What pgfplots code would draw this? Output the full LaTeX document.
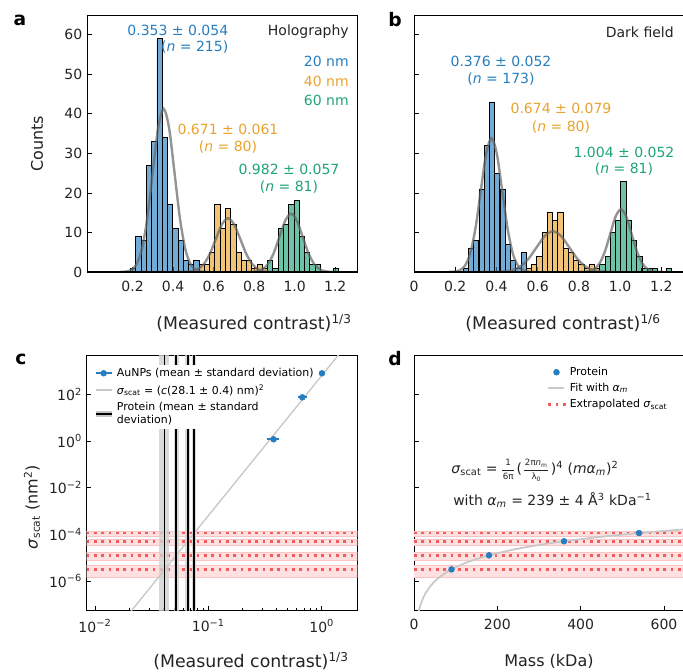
\documentclass[border=0pt]{standalone}
\usepackage{pgfplots}
\pgfplotsset{compat=1.18}
\usepackage{fontspec}
\setmainfont{DejaVu Sans}

\definecolor{cblue}{RGB}{38,126,192}
\definecolor{corange}{RGB}{232,163,45}
\definecolor{cgreen}{RGB}{31,163,122}
\definecolor{cred}{RGB}{245,90,90}
\definecolor{cband}{RGB}{255,224,224}
\definecolor{cfit}{RGB}{200,200,200}
\definecolor{ctxt}{RGB}{35,35,35}

\newcommand\tickfont{\fontsize{10.5}{12}\selectfont}
\newcommand\labfont{\fontsize{12}{14}\selectfont}
\newcommand\conlabfont{\fontsize{13}{15}\selectfont}
\newcommand\annfont{\fontsize{10.5}{12.5}\selectfont}
\newcommand\legfont{\fontsize{8.2}{10}\selectfont}
% small stacked fraction for the formula in d
\newcommand\smfrac[2]{{\renewcommand\arraystretch{0.78}\setlength\tabcolsep{0.5pt}%
  \begin{tabular}{c}\fontsize{6.5}{8}\selectfont #1\\\hline\fontsize{6.5}{8}\selectfont #2\end{tabular}}}

\pgfplotsset{
  panel/.style={scale only axis, anchor=north west, tick align=inside, tick pos=left,
    major tick length=3.5pt, minor tick length=2pt,
    every tick/.style={black, line width=0.6pt},
    axis line style={line width=0.6pt},
    ticklabel style={font=\tickfont, text=ctxt},
    xticklabel style={yshift=-3pt}},
  hist/.style={ybar, bar width=0.026, bar shift=0pt, draw=black, line width=0.6pt, fill opacity=0.65},
  gauss/.style={smooth, draw=black!60, line width=1.8pt, opacity=0.7},
  band/.style={fill=cband, draw=cred!35, line width=0.4pt, forget plot},
  dots/.style={cred, line width=1.9pt, dash pattern=on 1.9pt off 3.6pt, forget plot},
  pband/.style={fill=black!18, draw=none, opacity=0.8, forget plot},
  pline/.style={black, line width=1.4pt, forget plot},
}

\begin{document}
\begin{tikzpicture}
\path[use as bounding box] (0,0) rectangle (512.25pt,504pt);

% ---------- a: holography ----------
\begin{axis}[panel, at={(65.25pt,492.75pt)}, width=202.9pt, height=192.75pt,
  xmin=-0.025, xmax=1.31, ymin=0, ymax=65,
  xtick={0.2,0.4,0.6,0.8,1.0,1.2}, xticklabels={0.2,0.4,0.6,0.8,1.0,1.2},
  ytick={0,10,20,30,40,50,60}, yticklabels={0,10,20,30,40,50,60}]
\addplot[hist, fill=cblue] coordinates {
  (0.203,1)(0.229,9)(0.255,8)(0.281,27)(0.307,33)(0.333,59)(0.359,34)
  (0.385,17)(0.411,11)(0.437,8)(0.463,3)(0.489,2)(0.515,3)};
\addplot[hist, fill=corange] coordinates {
  (0.541,2)(0.567,2)(0.593,5)(0.619,17)(0.645,11)(0.671,16)(0.697,12)
  (0.723,5)(0.749,3)(0.775,3)(0.801,1)(0.827,2)(0.853,1)};
\addplot[hist, fill=cgreen] coordinates {
  (0.879,3)(0.905,1)(0.931,11)(0.957,12)(0.983,17)(1.009,18)(1.035,9)
  (1.061,5)(1.087,2)(1.113,2)(1.204,1)};
\addplot[gauss] coordinates {
  (0.137,0.014)(0.164,0.09)(0.191,0.46)(0.218,1.81)(0.245,5.59)(0.272,13.41)
  (0.299,25.05)(0.326,36.45)(0.353,41.3)(0.380,36.45)(0.407,25.05)(0.434,13.41)
  (0.461,5.59)(0.488,1.81)(0.515,0.46)(0.542,0.09)(0.569,0.014)};
\addplot[gauss] coordinates {
  (0.427,0.004)(0.4575,0.03)(0.488,0.15)(0.5185,0.60)(0.549,1.84)(0.5795,4.42)
  (0.610,8.25)(0.6405,12.0)(0.671,13.6)(0.7015,12.0)(0.732,8.25)(0.7625,4.42)
  (0.793,1.84)(0.8235,0.60)(0.854,0.15)(0.8845,0.03)(0.915,0.004)};
\addplot[gauss] coordinates {
  (0.754,0.005)(0.7825,0.03)(0.811,0.16)(0.8395,0.65)(0.868,1.99)(0.8965,4.79)
  (0.925,8.94)(0.9535,13.0)(0.982,14.74)(1.0105,13.0)(1.039,8.94)(1.0675,4.79)
  (1.096,1.99)(1.1245,0.65)(1.153,0.16)(1.1815,0.03)(1.21,0.005)};
\addplot[black, line width=1.4pt] coordinates {(-0.025,0)(1.31,0)};
\end{axis}

% ---------- b: dark field ----------
\begin{axis}[panel, at={(310.5pt,492.75pt)}, width=202.5pt, height=192.75pt,
  xmin=0, xmax=1.31, ymin=0, ymax=65,
  xtick={0,0.2,0.4,0.6,0.8,1.0,1.2}, xticklabels={0,0.2,0.4,0.6,0.8,1.0,1.2},
  ytick={0,10,20,30,40,50,60}, yticklabels={}]
\addplot[hist, bar width=0.0255, fill=cblue] coordinates {
  (0.251,1)(0.277,6)(0.302,8)(0.328,21)(0.353,32)(0.379,43)(0.404,25)
  (0.430,21)(0.455,7)(0.481,3)(0.506,1)(0.532,5)};
\addplot[hist, bar width=0.0255, fill=corange] coordinates {
  (0.557,1)(0.583,2)(0.608,4)(0.634,10)(0.659,15)(0.685,13)(0.710,15)
  (0.736,6)(0.761,5)(0.787,3)(0.812,2)(0.838,1)(0.863,2)(0.889,1)};
\addplot[hist, bar width=0.0255, fill=cgreen] coordinates {
  (0.914,2)(0.940,4)(0.965,10)(0.991,13)(1.016,23)(1.042,13)(1.067,8)
  (1.093,4)(1.118,1)(1.144,1)(1.169,1)(1.238,1)};
\addplot[gauss] coordinates {
  (0.168,0.011)(0.194,0.074)(0.220,0.38)(0.246,1.49)(0.272,4.58)(0.298,10.99)
  (0.324,20.53)(0.350,29.87)(0.376,33.85)(0.402,29.87)(0.428,20.53)(0.454,10.99)
  (0.480,4.58)(0.506,1.49)(0.532,0.38)(0.558,0.074)(0.584,0.011)};
\addplot[gauss] coordinates {
  (0.358,0.003)(0.3975,0.023)(0.437,0.11)(0.4765,0.45)(0.516,1.39)(0.5555,3.34)
  (0.595,6.25)(0.6345,9.09)(0.674,10.3)(0.7135,9.09)(0.753,6.25)(0.7925,3.34)
  (0.832,1.39)(0.8715,0.45)(0.911,0.11)(0.9505,0.023)(0.990,0.003)};
\addplot[gauss] coordinates {
  (0.796,0.005)(0.822,0.035)(0.848,0.18)(0.874,0.70)(0.900,2.14)(0.926,5.15)
  (0.952,9.61)(0.978,13.99)(1.004,15.85)(1.030,13.99)(1.056,9.61)(1.082,5.15)
  (1.108,2.14)(1.134,0.70)(1.160,0.18)(1.186,0.035)(1.212,0.005)};
\addplot[black, line width=1.4pt] coordinates {(0,0)(1.31,0)};
\end{axis}

% ---------- c: calibration ----------
\begin{axis}[panel, at={(65pt,237.75pt)}, width=203pt, height=191.8pt,
  xmode=log, ymode=log, xmin=0.00845, xmax=2.06, ymin=5.35e-8, ymax=4830,
  xtick={0.01,0.1,1}, xticklabels={10\textsuperscript{−2},10\textsuperscript{−1},10\textsuperscript{0}},
  ytick={1e-6,1e-4,1e-2,1,100},
  yticklabels={10\textsuperscript{−6},10\textsuperscript{−4},10\textsuperscript{−2},10\textsuperscript{0},10\textsuperscript{2}},
  yminorticks=false,
  legend cell align=left,
  legend style={at={(0.015,0.968)}, anchor=north west, draw=none, fill=none,
    font=\legfont, cells={anchor=west, align=left}, row sep=0.6pt, inner sep=1.5pt}]
\addlegendimage{legend image code/.code={\draw[cblue, line width=1.4pt] (0pt,0pt)--(12pt,0pt); \fill[cblue] (6pt,0pt) circle (2.2pt);}}
\addlegendentry{AuNPs (mean ± standard deviation)}
\addlegendimage{legend image code/.code={\draw[cfit, line width=1.4pt] (0pt,0pt)--(12pt,0pt);}}
\addlegendentry{\textit{σ}\textsubscript{scat} = (\textit{c}(28.1 ± 0.4) nm)\textsuperscript{2}}
\addlegendimage{legend image code/.code={\draw[black!22, line width=4pt] (0pt,0pt)--(12pt,0pt); \draw[black, line width=1.5pt] (0pt,0pt)--(12pt,0pt);}}
\addlegendentry{Protein (mean ± standard\\deviation)}
% extrapolated bands
\addplot[band] coordinates {(0.005,8.5e-5)(3,8.5e-5)(3,1.38e-4)(0.005,1.38e-4)} -- cycle;
\addplot[band] coordinates {(0.005,3.55e-5)(3,3.55e-5)(3,6.17e-5)(0.005,6.17e-5)} -- cycle;
\addplot[band] coordinates {(0.005,7.94e-6)(3,7.94e-6)(3,1.7e-5)(0.005,1.7e-5)} -- cycle;
\addplot[band] coordinates {(0.005,1.48e-6)(3,1.48e-6)(3,4.68e-6)(0.005,4.68e-6)} -- cycle;
\addplot[dots] coordinates {(0.00845,1.138e-4)(3,1.138e-4)};
\addplot[dots] coordinates {(0.00845,5.06e-5)(3,5.06e-5)};
\addplot[dots] coordinates {(0.00845,1.264e-5)(3,1.264e-5)};
\addplot[dots] coordinates {(0.00845,3.16e-6)(3,3.16e-6)};
% protein bands (interrupted behind the legend)
\addplot[pband] coordinates {(0.037,1e-9)(0.045,1e-9)(0.045,3.2)(0.037,3.2)} -- cycle;
\addplot[pband] coordinates {(0.0495,1e-9)(0.055,1e-9)(0.055,3.2)(0.0495,3.2)} -- cycle;
\addplot[pband] coordinates {(0.0627,1e-9)(0.0687,1e-9)(0.0687,3.2)(0.0627,3.2)} -- cycle;
\addplot[pband] coordinates {(0.0721,1e-9)(0.078,1e-9)(0.078,3.2)(0.0721,3.2)} -- cycle;
\addplot[pband] coordinates {(0.037,1800)(0.045,1800)(0.045,1e5)(0.037,1e5)} -- cycle;
\addplot[pband] coordinates {(0.0495,1800)(0.055,1800)(0.055,1e5)(0.0495,1e5)} -- cycle;
\addplot[pband] coordinates {(0.0627,1800)(0.0687,1800)(0.0687,1e5)(0.0627,1e5)} -- cycle;
\addplot[pband] coordinates {(0.0721,1800)(0.078,1800)(0.078,1e5)(0.0721,1e5)} -- cycle;
% fit line
\addplot[cfit, line width=1pt, forget plot] coordinates {(0.015,7.18e-9)(2.5,1.54e5)};
% protein lines
\addplot[pline] coordinates {(0.041,1e-9)(0.041,3.2)};
\addplot[pline] coordinates {(0.0521,1e-9)(0.0521,3.2)};
\addplot[pline] coordinates {(0.0657,1e-9)(0.0657,3.2)};
\addplot[pline] coordinates {(0.0752,1e-9)(0.0752,3.2)};
\addplot[pline] coordinates {(0.041,1800)(0.041,1e5)};
\addplot[pline] coordinates {(0.0521,1800)(0.0521,1e5)};
\addplot[pline] coordinates {(0.0657,1800)(0.0657,1e5)};
\addplot[pline] coordinates {(0.0752,1800)(0.0752,1e5)};
% AuNPs
\addplot[cblue, only marks, mark=*, mark size=2.2pt, mark options={draw=cblue, fill=cblue}, forget plot,
  error bars/.cd, x dir=both, x explicit, error mark=none, error bar style={line width=1.4pt, cblue}]
  coordinates {(0.376,1.18) +- (0.045,0) (0.674,74) +- (0.06,0) (1.004,794) +- (0.03,0)};
\end{axis}

% ---------- d: mass ----------
\begin{axis}[panel, at={(310.5pt,237.75pt)}, width=202.5pt, height=191.8pt,
  ymode=log, xmin=0, xmax=648, ymin=5.35e-8, ymax=4830,
  xtick={0,200,400,600}, xticklabels={0,200,400,600},
  ytick={1e-6,1e-4,1e-2,1,100}, yticklabels={}, yminorticks=false,
  legend cell align=left,
  legend style={at={(0.485,0.972)}, anchor=north west, draw=none, fill=none,
    font=\legfont, cells={anchor=west}, row sep=0.3pt, inner sep=1.5pt}]
\addlegendimage{legend image code/.code={\fill[cblue] (6pt,0pt) circle (2.2pt);}}
\addlegendentry{Protein}
\addlegendimage{legend image code/.code={\draw[cfit, line width=1.4pt] (0pt,0pt)--(12pt,0pt);}}
\addlegendentry{Fit with \textit{α}\textsubscript{\textit{m}}}
\addlegendimage{legend image code/.code={\draw[cred, line width=1.9pt, dash pattern=on 1.9pt off 3.6pt] (0pt,0pt)--(13pt,0pt);}}
\addlegendentry{Extrapolated \textit{σ}\textsubscript{scat}}
\addplot[band] coordinates {(-10,8.5e-5)(700,8.5e-5)(700,1.38e-4)(-10,1.38e-4)} -- cycle;
\addplot[band] coordinates {(-10,3.55e-5)(700,3.55e-5)(700,6.17e-5)(-10,6.17e-5)} -- cycle;
\addplot[band] coordinates {(-10,7.94e-6)(700,7.94e-6)(700,1.7e-5)(-10,1.7e-5)} -- cycle;
\addplot[band] coordinates {(-10,1.48e-6)(700,1.48e-6)(700,4.68e-6)(-10,4.68e-6)} -- cycle;
\addplot[dots] coordinates {(0,1.138e-4)(700,1.138e-4)};
\addplot[dots] coordinates {(0,5.06e-5)(700,5.06e-5)};
\addplot[dots] coordinates {(0,1.264e-5)(700,1.264e-5)};
\addplot[dots] coordinates {(0,3.16e-6)(700,3.16e-6)};
\addplot[cfit, line width=1.3pt, smooth, forget plot] coordinates {
  (10,3.9e-8)(12,5.62e-8)(15,8.78e-8)(20,1.56e-7)(25,2.44e-7)(30,3.51e-7)(40,6.24e-7)
  (50,9.75e-7)(60,1.40e-6)(75,2.19e-6)(90,3.16e-6)(120,5.62e-6)(150,8.78e-6)(180,1.264e-5)
  (240,2.25e-5)(300,3.51e-5)(360,5.06e-5)(450,7.9e-5)(540,1.138e-4)(650,1.648e-4)};
\addplot[cblue, only marks, mark=*, mark size=2.2pt, mark options={draw=cblue, fill=cblue}, forget plot]
  coordinates {(90,3.16e-6)(180,1.264e-5)(360,5.06e-5)(540,1.138e-4)};
\end{axis}

% ---------- text (pixel coordinates of the reference) ----------
\begin{scope}[x=0.75pt, y=-0.75pt, shift={(0,504pt)}]
\node[font=\bfseries\fontsize{14}{14}\selectfont] at (20,20) {a};
\node[font=\bfseries\fontsize{14}{14}\selectfont] at (395,20) {b};
\node[font=\bfseries\fontsize{14}{14}\selectfont] at (21,359) {c};
\node[font=\bfseries\fontsize{14}{14}\selectfont] at (395,359) {d};

\node[rotate=90, font=\labfont, text=ctxt] at (37,144) {Counts};
\node[font=\conlabfont, text=ctxt] at (254,323) {(Measured contrast)\textsuperscript{1/3}};
\node[font=\conlabfont, text=ctxt] at (563,323) {(Measured contrast)\textsuperscript{1/6}};
\node[font=\conlabfont, text=ctxt] at (251,661) {(Measured contrast)\textsuperscript{1/3}};
\node[font=\labfont, text=ctxt] at (549,661) {Mass (kDa)};
\node[rotate=90, font=\labfont, text=ctxt] at (32,507) {\textit{σ}\textsubscript{scat} (nm\textsuperscript{2})};

\begin{scope}[every node/.style={font=\annfont, inner sep=0pt}]
\node[anchor=east, text=cblue] at (228.5,30) {0.353 ± 0.054};
\node[anchor=east, text=cblue] at (228.5,47) {(\textit{n} = 215)};
\node[text=corange] at (228,129.5) {0.671 ± 0.061};
\node[text=corange] at (228,147) {(\textit{n} = 80)};
\node[text=cgreen] at (289,169.5) {0.982 ± 0.057};
\node[text=cgreen] at (289,187) {(\textit{n} = 81)};
\node[anchor=east, text=ctxt] at (349,32) {Holography};
\node[anchor=east, text=cblue] at (349,61) {20 nm};
\node[anchor=east, text=corange] at (349,81) {40 nm};
\node[anchor=east, text=cgreen] at (349,100) {60 nm};

\node[text=cblue] at (501,61) {0.376 ± 0.052};
\node[text=cblue] at (501,79) {(\textit{n} = 173)};
\node[text=corange] at (561,108.5) {0.674 ± 0.079};
\node[text=corange] at (561,127) {(\textit{n} = 80)};
\node[text=cgreen] at (624,152) {1.004 ± 0.052};
\node[text=cgreen] at (624,169.5) {(\textit{n} = 81)};
\node[anchor=east, text=ctxt] at (674,32) {Dark field};

\node[anchor=west, text=ctxt] at (451,470) {\textit{σ}\textsubscript{scat} = \smfrac{1}{6π}\,(\,\smfrac{2π\textit{n}\textsubscript{m}}{λ\textsubscript{0}}\,)\textsuperscript{4} (\textit{mα}\textsubscript{\textit{m}})\textsuperscript{2}};
\node[anchor=west, text=ctxt] at (453,500) {with \textit{α}\textsubscript{\textit{m}} = 239 ± 4 Å\textsuperscript{3} kDa\textsuperscript{−1}};
\end{scope}
\end{scope}
\end{tikzpicture}
\end{document}
